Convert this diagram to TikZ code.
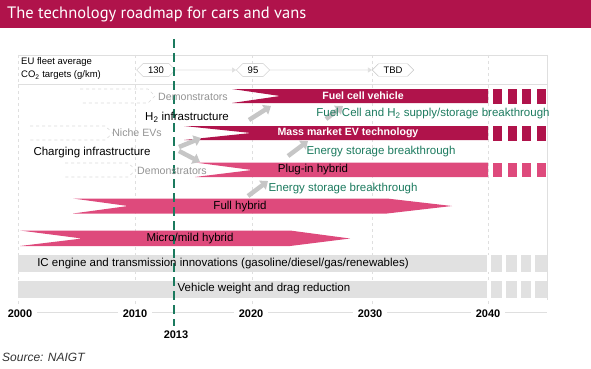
\documentclass[tikz,border=0pt]{standalone}
\usepackage{fontspec}
\setmainfont{Liberation Sans}
\newfontfamily\titlefont{PT Sans}
\usetikzlibrary{arrows.meta, shapes.symbols, positioning}
\definecolor{roadred}{HTML}{B0134B}
\definecolor{roadpink}{HTML}{DE4A7C}
\definecolor{roadgreen}{HTML}{1B7A5E}
\definecolor{roadgray}{HTML}{E1E1E1}
\definecolor{pushgray}{HTML}{C6C6C6}

\begin{document}
\begin{tikzpicture}[x=1pt, y=-1pt, inner sep=1pt,
  every node/.style = {font=\fontsize{11.5}{13}\selectfont},
  barlabel/.style = {text=white, font=\fontsize{10.6}{12}\selectfont\bfseries},
  demo/.style = {text=gray!85, font=\fontsize{10.6}{12}\selectfont},
  breakthrough/.style = {text=roadgreen},
  yearlabel/.style = {fill=white, inner xsep=5pt, font=\fontsize{11}{13}\selectfont\bfseries},
  target/.style = {shape=signal, signal to=west and east, draw=gray!45, fill=white,
    font=\fontsize{9.5}{11}\selectfont, inner xsep=5pt, inner ysep=3pt},
  push/.style = {draw=pushgray, line width=4.5pt, -{Triangle[length=7pt, width=11pt]}},
  gridline/.style = {draw=gray!25, line width=0.6pt},
  demoline/.style = {draw=gray!30, dashed, line width=0.6pt}]
  \useasboundingbox (0,0) rectangle (591,369);
  % title bar
  \fill[roadred] (0,0) rectangle (591,28);
  \node[anchor=west, text=white, font=\titlefont\fontsize{16.5}{18}\selectfont] (title) at (6,14)
    {The technology roadmap for cars and vans};
  % frame and year grid
  \draw[gridline] (18,55) -- (547,55) (18,84) -- (547,84) (547,55) -- (547,300);
  \draw[gridline] (18,312) -- (547,312);
  \foreach \x in {18,135,252,372,488}
    \draw[gridline, dashed] (\x,55) -- (\x,305);
  % CO2 targets
  \node[anchor=west, align=left, font=\fontsize{9.5}{13}\selectfont] (eu) at (20,69)
    {EU fleet average\\CO\textsubscript{2} targets (g/km)};
  \node[target] (t130) at (156,70) {130};
  \node[target] (t95) at (253,70) {95};
  \node[target] (ttbd) at (393,70) {TBD};
  \draw[gridline, -{Triangle[length=4pt, width=5pt]}] (t130) -- (t95);
  \draw[gridline, -{Triangle[length=4pt, width=5pt]}] (t95) -- (ttbd);
  % demonstrator wedges
  \draw[demoline] (80,89) -- (148,89) -- (155,96) -- (148,103) -- (80,103);
  \draw[demoline] (30,126) -- (105,126) -- (113,133) -- (105,140) -- (30,140);
  \draw[demoline] (65,163) -- (128,163) -- (136,170) -- (128,177) -- (65,177);
  % bars
  \fill[roadred] (232,89) -- (488,89) -- (488,103) -- (232,103) -- (280,96) -- cycle;
  \fill[roadred] (184,126) -- (488,126) -- (488,140) -- (184,140) -- (251,133) -- cycle;
  \fill[roadpink] (195,162.5) -- (488,162.5) -- (488,177) -- (195,177) -- (252,170) -- cycle;
  \foreach \y/\c in {89/roadred, 126/roadred, 162.5/roadpink}
    \foreach \x in {493, 507.7, 522.4, 537.1}
      \fill[\c] (\x,\y) rectangle ++(9,14.5);
  \fill[roadpink] (73,198.5) -- (387,198.5) -- (452,206) -- (387,213.5) -- (73,213.5) -- (128,206) -- cycle;
  \fill[roadpink] (20,230.5) -- (290,230.5) -- (350,238.5) -- (290,246) -- (20,246) -- (82,238.5) -- cycle;
  \foreach \y in {255,281} {
    \fill[roadgray] (18,\y) rectangle ++(529,16.5);
    \foreach \x in {487,502,517,531}
      \fill[white] (\x,\y) rectangle ++(4,16.5);
  }
  % pushes
  \coordinate (h2from) at (249,120);
  \coordinate (h2to) at (271,106);
  \coordinate (fcfrom) at (326,119);
  \coordinate (fcto) at (343,106);
  \coordinate (chupfrom) at (179,147);
  \coordinate (chupto) at (201,138);
  \coordinate (chdnfrom) at (179,151);
  \coordinate (chdnto) at (200,162);
  \coordinate (evfrom) at (288,156);
  \coordinate (evto) at (308,141);
  \coordinate (phfrom) at (248,196);
  \coordinate (phto) at (268,181);
  \draw[push] (h2from) -- (h2to);
  \draw[push] (fcfrom) -- (fcto);
  \draw[push] (chupfrom) -- (chupto);
  \draw[push] (chdnfrom) -- (chdnto);
  \draw[push] (evfrom) -- (evto);
  \draw[push] (phfrom) -- (phto);
  % today
  \draw[roadgreen, line width=2.6pt, dash pattern=on 9pt off 5pt] (174,39) -- (174,326);
  % labels
  \node[demo] (fcdemo) at (193,97) {Demonstrators};
  \node (h2) at (187,117) {H\textsubscript{2} infrastructure};
  \node[barlabel] (fcv) at (363,96) {Fuel cell vehicle};
  \node[breakthrough] (fcbreak) at (433,114) {Fuel Cell and H\textsubscript{2} supply/storage breakthrough};
  \node[demo] (niche) at (137,133) {Niche EVs};
  \node[barlabel] (mass) at (348,133) {Mass market EV technology};
  \node (charging) at (92,153) {Charging infrastructure};
  \node[breakthrough] (evbreak) at (381,152) {Energy storage breakthrough};
  \node[demo] (phevdemo) at (172,171) {Demonstrators};
  \node (phev) at (313,170) {Plug-in hybrid};
  \node[breakthrough] (phevbreak) at (343,189) {Energy storage breakthrough};
  \node (full) at (240,207) {Full hybrid};
  \node (micro) at (190,239) {Micro/mild hybrid};
  \node (ice) at (223,264) {IC engine and transmission innovations (gasoline/diesel/gas/renewables)};
  \node (weight) at (264,289) {Vehicle weight and drag reduction};
  % axis
  \node[yearlabel] (y2000) at (20,314) {2000};
  \node[yearlabel] (y2010) at (135,314) {2010};
  \node[yearlabel] (y2020) at (251,314) {2020};
  \node[yearlabel] (y2030) at (370,314) {2030};
  \node[yearlabel] (y2040) at (488,314) {2040};
  \node[yearlabel, fill=none] (y2013) at (176,335) {2013};
  \node[anchor=west, font=\fontsize{12}{14}\selectfont\itshape, text=black!80] (source) at (1,357)
    {Source: NAIGT};
\end{tikzpicture}
\end{document}
